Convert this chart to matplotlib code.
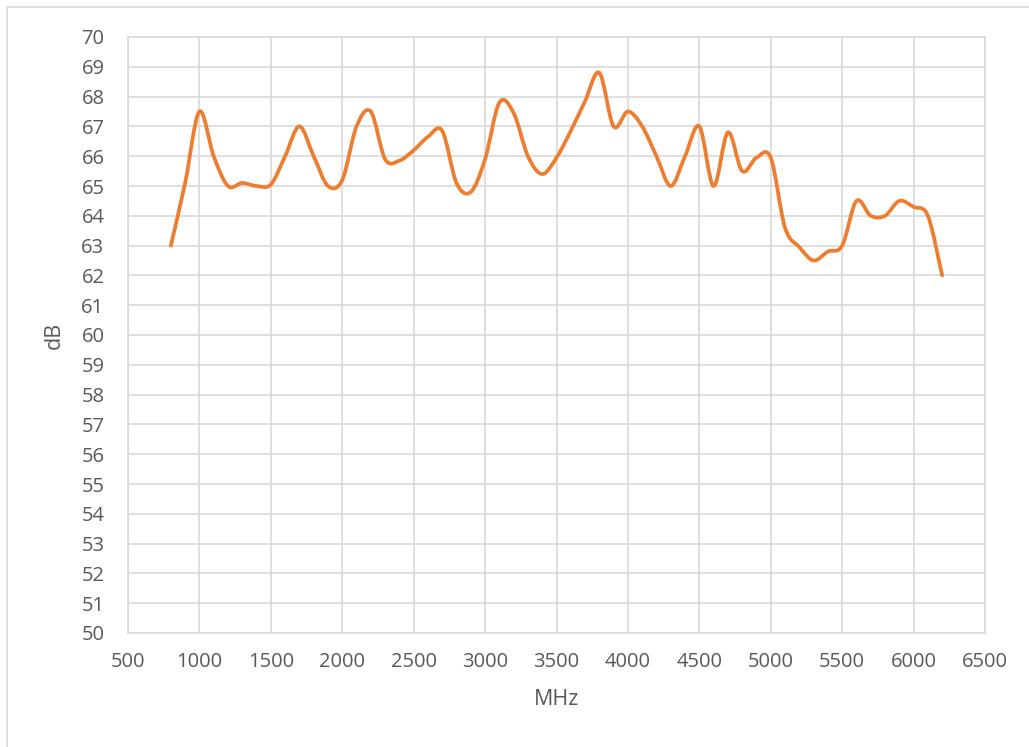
import matplotlib
matplotlib.use("Agg")
import matplotlib.pyplot as plt
import numpy as np
from matplotlib.path import Path
from matplotlib.patches import PathPatch, Rectangle

freq_mhz = [800, 900, 1000, 1100, 1200, 1300, 1400, 1500, 1600, 1700, 1800, 1900,
            2000, 2100, 2200, 2300, 2400, 2500, 2600, 2700, 2800, 2900, 3000, 3100,
            3200, 3300, 3400, 3500, 3600, 3700, 3800, 3900, 4000, 4100, 4200, 4300,
            4400, 4500, 4600, 4700, 4800, 4900, 5000, 5100, 5200, 5300, 5400, 5500,
            5600, 5700, 5800, 5900, 6000, 6100, 6200]
gain_db = [63.0, 65.1, 67.5, 66.0, 65.0, 65.1, 65.0, 65.05, 66.0, 67.0, 66.0, 65.0,
           65.2, 67.0, 67.5, 65.9, 65.85, 66.2, 66.65, 66.85, 65.1, 64.8, 65.9, 67.8,
           67.45, 66.0, 65.4, 65.95, 66.85, 67.85, 68.8, 67.0, 67.5, 67.0, 66.0, 65.0,
           66.0, 67.0, 65.0, 66.8, 65.5, 65.95, 65.95, 63.6, 62.95, 62.5, 62.8, 63.0,
           64.5, 64.0, 64.0, 64.5, 64.3, 64.0, 62.0]

x_ticks = list(range(500, 7000, 500))
y_ticks = list(range(50, 71, 1))

TEXT = "#595959"
GRID = "#d9d9d9"
ORANGE = "#ED7D31"

plt.rcParams['font.family'] = ['Open Sans', 'DejaVu Sans']

fig = plt.figure(figsize=(10.29, 7.47), dpi=100)
ax = fig.add_axes([128/1029, 1-633/747, (985-128)/1029, (633-37)/747])

# Chart-area border (top and left visible)
fig.patches.append(Rectangle((7/1029, -0.05), 1.2, 1-7/747+0.05, transform=fig.transFigure,
                             fill=False, edgecolor=GRID, linewidth=1.2))

# Smoothed line (cardinal / Catmull-Rom Bezier as in spreadsheet smoothing)
pts = np.column_stack([freq_mhz, gain_db]).astype(float)
n = len(pts)
verts = [tuple(pts[0])]
codes = [Path.MOVETO]
for i in range(n - 1):
    p0 = pts[max(i - 1, 0)]
    p1 = pts[i]
    p2 = pts[i + 1]
    p3 = pts[min(i + 2, n - 1)]
    c1 = p1 + (p2 - p0) / 6.0
    c2 = p2 - (p3 - p1) / 6.0
    verts += [tuple(c1), tuple(c2), tuple(p2)]
    codes += [Path.CURVE4] * 3
path = Path(verts, codes)
ax.add_patch(PathPatch(path, facecolor='none', edgecolor=ORANGE, linewidth=2.7,
                       capstyle='round', joinstyle='round', zorder=3))

ax.set_xlim(500, 6500)
ax.set_ylim(50, 70)
ax.set_xticks(x_ticks)
ax.set_yticks(y_ticks)
ax.grid(True, color=GRID, linewidth=1.2)
ax.set_axisbelow(True)
for s in ax.spines.values():
    s.set_color(GRID)
    s.set_linewidth(1.2)
ax.tick_params(axis='both', length=0, labelsize=14.5, colors=TEXT)
ax.tick_params(axis='y', pad=17)
ax.tick_params(axis='x', pad=14)
ax.set_xlabel("MHz", fontsize=15.5, color=TEXT, labelpad=12)
ax.set_ylabel("dB", fontsize=15.5, color=TEXT, labelpad=12)

fig.savefig("out.png", dpi=100)
